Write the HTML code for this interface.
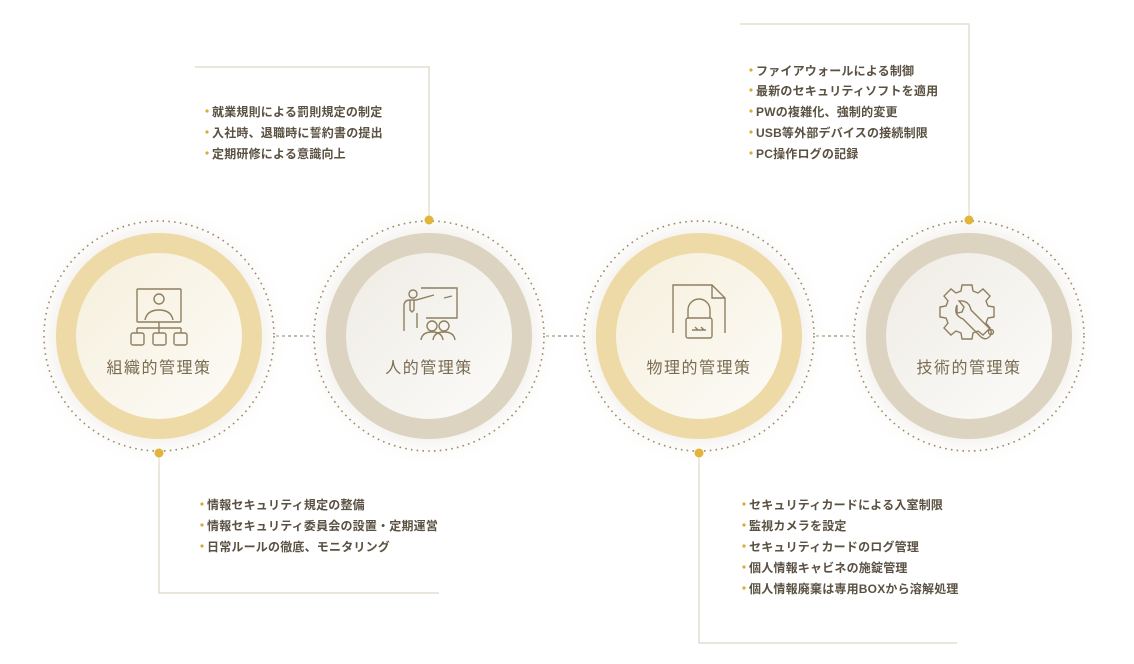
<!DOCTYPE html>
<html><head><meta charset="utf-8"><style>
html,body{margin:0;padding:0;background:#fff;}
svg{display:block;}
text{font-family:"Liberation Sans","Noto Sans CJK JP",sans-serif;}
.li{font-size:12px;fill:#5a5142;font-weight:bold;letter-spacing:0.2px;}
.tt{font-size:16px;fill:#7a6c52;letter-spacing:1.5px;}
</style></head><body>
<svg width="1134" height="664" viewBox="0 0 1134 664" xmlns="http://www.w3.org/2000/svg">
<defs>
<radialGradient id="sh" cx="0.5" cy="0.5" r="0.5">
<stop offset="0.7" stop-color="#ece9e2" stop-opacity="0.9"/>
<stop offset="1" stop-color="#ffffff" stop-opacity="0"/>
</radialGradient>
<linearGradient id="inY" x1="0" y1="0" x2="1" y2="1"><stop offset="0" stop-color="#f6efdc"/><stop offset="1" stop-color="#fcfbf7"/></linearGradient>
<linearGradient id="inG" x1="0" y1="0" x2="1" y2="1"><stop offset="0" stop-color="#efece5"/><stop offset="1" stop-color="#fcfbf9"/></linearGradient>
</defs>
<g fill="none" stroke="#ddd6c6" stroke-width="1.2">
<polyline points="195,67 429,67 429,220"/>
<polyline points="740,24 969,24 969,220"/>
<polyline points="159,452 159,593 439,593"/>
<polyline points="699,452 699,643 957,643"/>
</g>
<g stroke="#9a8a6a" stroke-width="1.2" stroke-dasharray="3,3">
<line x1="276" y1="336" x2="313" y2="336"/>
<line x1="546" y1="336" x2="583" y2="336"/>
<line x1="816" y1="336" x2="853" y2="336"/>
</g>
<g>
<circle cx="159" cy="336" r="132" fill="url(#sh)"/>
<circle cx="429" cy="336" r="132" fill="url(#sh)"/>
<circle cx="699" cy="336" r="132" fill="url(#sh)"/>
<circle cx="969" cy="336" r="132" fill="url(#sh)"/>
</g>
<g fill="none" stroke="#9a8a6a" stroke-width="1.6" stroke-dasharray="1.6,4.2">
<circle cx="159" cy="336" r="115"/><circle cx="429" cy="336" r="115"/><circle cx="699" cy="336" r="115"/><circle cx="969" cy="336" r="115"/>
</g>
<circle cx="159" cy="336" r="103" fill="#eedaa6"/><circle cx="159" cy="336" r="83" fill="url(#inY)"/>
<circle cx="429" cy="336" r="103" fill="#dcd3c1"/><circle cx="429" cy="336" r="83" fill="url(#inG)"/>
<circle cx="699" cy="336" r="103" fill="#eedaa6"/><circle cx="699" cy="336" r="83" fill="url(#inY)"/>
<circle cx="969" cy="336" r="103" fill="#dcd3c1"/><circle cx="969" cy="336" r="83" fill="url(#inG)"/>
<g fill="#e2b53a"><circle cx="429" cy="220" r="4.5"/><circle cx="969" cy="220" r="4.5"/><circle cx="159" cy="453" r="4.5"/><circle cx="699" cy="453" r="4.5"/></g>
<g fill="none" stroke="#8f7f60" stroke-width="1.4">
<rect x="137" y="289" width="44" height="33" rx="1"/>
<circle cx="159" cy="299" r="5"/><path d="M145 320 q2-10 14-10 q12 0 14 10"/>
<path d="M159 322 v6 M137 328 h44 M137 328 v5 M181 328 v5 M159 328 v5"/>
<rect x="131" y="333" width="13" height="12" rx="2"/><rect x="153" y="333" width="13" height="12" rx="2"/><rect x="174" y="333" width="13" height="12" rx="2"/>
<path d="M421 288 h36 v30 h-31"/>
<circle cx="413" cy="294" r="4"/><path d="M404 331 v-25 q0-6 6-6 h6 l18-5 M417 313 v15 M444 298 l8-2"/>
<path d="M410 300 v10 l2 2 l2-2 v-10"/>
<circle cx="432" cy="326" r="5"/><circle cx="444" cy="326" r="5"/>
<path d="M421 340 q1-8 11-8 q10 0 11 8 M433 340 q1-8 11-8 q10 0 11 8"/>
<path d="M673 333 v-48 h39 l13 13 v35 M712 285 v13 h13"/>
<path d="M688 318 v-8 a11 11 0 0 1 22 0 v8"/><rect x="686" y="318" width="26" height="20" rx="2"/>
<path d="M692 330 h14 M695 327 l3 3 M701 327 l3 3"/>
<path d="M962 285 h10 l1 6 l5 2 l5-4 l7 7 l-4 5 l2 5 l6 1 v10 l-6 1 l-2 5 l4 5 l-7 7 l-5-4 l-5 2 l-1 6 h-10 l-1-6 l-5-2 l-5 4 l-7-7 l4-5 l-2-5 l-6-1 v-10 l6-1 l2-5 l-4-5 l7-7 l5 4 l5-2 z"/>
<path d="M957 305 q-4 10 6 14 l18 18 q5 4 9-1 q3-4-1-8 l-18-18 q-2-10-12-9 l5 6 l-2 5 l-5 1 z"/>
<circle cx="991" cy="332" r="2.5"/>
</g>
<text class="tt" x="159" y="373" text-anchor="middle">組織的管理策</text>
<text class="tt" x="429" y="373" text-anchor="middle">人的管理策</text>
<text class="tt" x="699" y="373" text-anchor="middle">物理的管理策</text>
<text class="tt" x="969" y="373" text-anchor="middle">技術的管理策</text>
<g fill="#d9a93a">
<circle cx="207" cy="111" r="1.6"/><circle cx="207" cy="132" r="1.6"/><circle cx="207" cy="153" r="1.6"/>
<circle cx="751" cy="70" r="1.6"/><circle cx="751" cy="90" r="1.6"/><circle cx="751" cy="111" r="1.6"/><circle cx="751" cy="132" r="1.6"/><circle cx="751" cy="153" r="1.6"/>
<circle cx="202" cy="504" r="1.6"/><circle cx="202" cy="525" r="1.6"/><circle cx="202" cy="546" r="1.6"/>
<circle cx="744" cy="504" r="1.6"/><circle cx="744" cy="525" r="1.6"/><circle cx="744" cy="546" r="1.6"/><circle cx="744" cy="567" r="1.6"/><circle cx="744" cy="588" r="1.6"/>
</g>
<g>
<text class="li" x="212" y="116">就業規則による罰則規定の制定</text>
<text class="li" x="212" y="137">入社時、退職時に誓約書の提出</text>
<text class="li" x="212" y="158">定期研修による意識向上</text>
<text class="li" x="756" y="75">ファイアウォールによる制御</text>
<text class="li" x="756" y="95">最新のセキュリティソフトを適用</text>
<text class="li" x="756" y="116">PWの複雑化、強制的変更</text>
<text class="li" x="756" y="137">USB等外部デバイスの接続制限</text>
<text class="li" x="756" y="158">PC操作ログの記録</text>
<text class="li" x="207" y="509">情報セキュリティ規定の整備</text>
<text class="li" x="207" y="530">情報セキュリティ委員会の設置・定期運営</text>
<text class="li" x="207" y="551">日常ルールの徹底、モニタリング</text>
<text class="li" x="749" y="509">セキュリティカードによる入室制限</text>
<text class="li" x="749" y="530">監視カメラを設定</text>
<text class="li" x="749" y="551">セキュリティカードのログ管理</text>
<text class="li" x="749" y="572">個人情報キャビネの施錠管理</text>
<text class="li" x="749" y="593">個人情報廃棄は専用BOXから溶解処理</text>
</g>
</svg>
</body></html>
